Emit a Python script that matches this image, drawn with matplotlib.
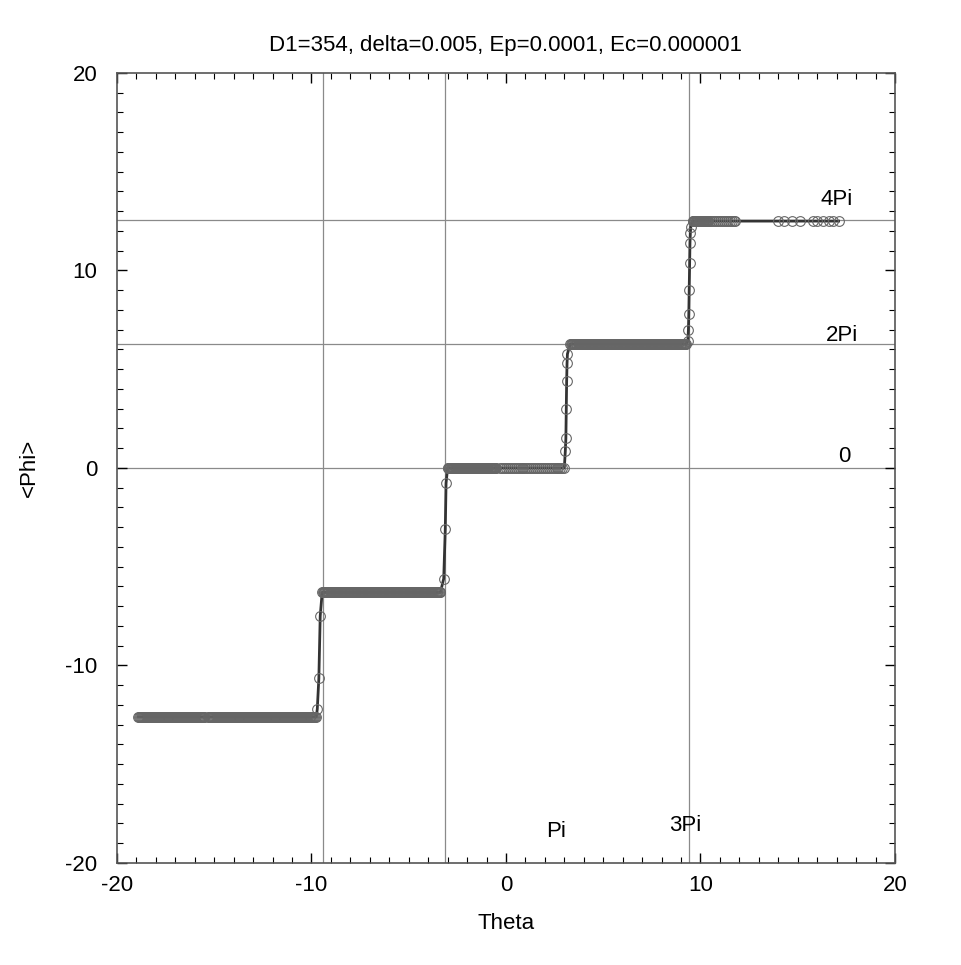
import matplotlib
matplotlib.use('Agg')
import matplotlib.pyplot as plt
import numpy as np

plat_start = [-18.9, -15.3, -9.45, -3.0, -0.3, 3.3, 9.6, 10.4]
plat_stop = [-15.5, -9.75, -3.35, -0.5, 3.0, 9.25, 10.4, 11.8]
plat_step = [0.05, 0.05, 0.04, 0.03, 0.1, 0.04, 0.03, 0.1]
plat_level = [-12.6, -12.6, -6.3, 0.0, 0.0, 6.28, 12.5, 12.5]

# points caught on the jumps between plateaus
jump_theta = [-9.70, -9.62, -9.55, -3.20, -3.12, -3.08,
              3.05, 3.08, 3.10, 3.12, 3.14, 3.16,
              9.35, 9.38, 9.40, 9.42, 9.44, 9.46, 9.48, 9.50]
jump_phi = [-12.2, -10.65, -7.5, -5.6, -3.1, -0.77,
            0.84, 1.5, 2.97, 4.4, 5.3, 5.77,
            6.43, 7.0, 7.8, 9.0, 10.4, 11.4, 11.9, 12.2]

# isolated points at the far right
tail_theta = [14.0, 14.3, 14.7, 15.1, 15.8, 16.0, 16.3, 16.6, 16.8, 17.1]
tail_phi = [12.5] * len(tail_theta)

# annotation labels
ref_text = ['4Pi', '2Pi', '0', 'Pi', '3Pi']
ref_x = [17.0, 17.3, 17.4, 2.6, 9.2]
ref_y = [13.6, 6.7, 0.6, -18.4, -18.1]

# build the sweep
theta = list(jump_theta) + list(tail_theta)
phi = list(jump_phi) + list(tail_phi)
for a, b, s, lv in zip(plat_start, plat_stop, plat_step, plat_level):
    xs = np.arange(a, b + s / 2, s)
    theta += list(xs)
    phi += [lv] * len(xs)
order = np.argsort(theta)
theta = np.array(theta)[order]
phi = np.array(phi)[order]

plt.rcParams['font.family'] = ['Liberation Sans Narrow', 'Liberation Sans', 'DejaVu Sans']
plt.rcParams['axes.unicode_minus'] = False

fig = plt.figure(figsize=(9.61, 9.65), dpi=100)
ax = fig.add_axes([0.1217, 0.1057, 0.8096, 0.8187])

# reference grid lines at multiples of pi
for v in [-3 * np.pi, -np.pi, 3 * np.pi]:
    ax.axvline(v, color='#8a8a8a', lw=0.9, zorder=0)
for v in [0, 2 * np.pi, 4 * np.pi]:
    ax.axhline(v, color='#8a8a8a', lw=0.9, zorder=0)

ax.plot(theta, phi, color='#333333', lw=2.0, zorder=2)
ax.plot(theta, phi, ls='none', marker='o', ms=7, mfc='none',
        mec='#666666', mew=0.8, zorder=3)

for t, x, y in zip(ref_text, ref_x, ref_y):
    ax.text(x, y, t, fontsize=16, ha='center', va='center')

ax.set_xlim(-20, 20)
ax.set_ylim(-20, 20)
ax.set_xticks([-20, -10, 0, 10, 20])
ax.set_yticks([-20, -10, 0, 10, 20])
ax.set_xticks(np.arange(-20, 21, 1), minor=True)
ax.set_yticks(np.arange(-20, 21, 1), minor=True)
ax.tick_params(which='both', direction='in', top=True, right=True, labelsize=16)
ax.tick_params(axis='x', which='major', pad=9)
ax.tick_params(axis='y', which='major', pad=14)
ax.tick_params(which='major', length=7, width=1)
ax.tick_params(which='minor', length=4, width=0.8)
for sp in ax.spines.values():
    sp.set_color('#555555')
    sp.set_linewidth(1.2)

ax.set_xlabel('Theta', fontsize=16, labelpad=12)
ax.set_ylabel('<Phi>', fontsize=16, labelpad=18)
ax.set_title('D1=354, delta=0.005, Ep=0.0001, Ec=0.000001', fontsize=16, pad=16)

fig.savefig('out.png', dpi=100, facecolor='white')
